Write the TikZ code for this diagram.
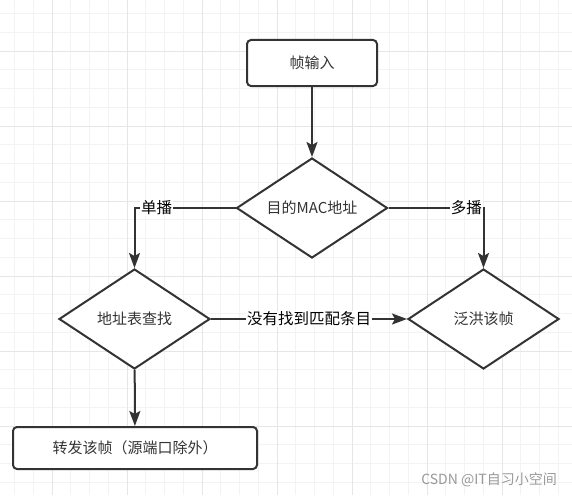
\documentclass[tikz,border=0pt]{standalone}
\usepackage{fontspec}
\setmainfont{Noto Sans CJK SC}
\usetikzlibrary{shapes.geometric,arrows.meta}
\definecolor{linegray}{HTML}{333333}
\definecolor{gridminor}{HTML}{F3F3F3}
\definecolor{gridmajor}{HTML}{E6E6E6}

\begin{document}
\begin{tikzpicture}[x=1pt, y=-1pt,
		box/.style={draw=linegray, line width=2pt, rounded corners=4pt, fill=white, minimum width=130pt, minimum height=46pt, inner sep=0pt, text=linegray, font=\fontsize{15}{17}\selectfont},
		choice/.style={diamond, aspect=1.5, draw=linegray, line width=2pt, fill=white, minimum width=151pt, minimum height=100pt, inner sep=0pt, text=linegray, font=\fontsize{15}{17}\selectfont},
		flow/.style={draw=linegray, line width=2pt, -{Stealth[length=15pt, width=11pt, inset=3pt]}},
		tag/.style={fill=white, inner sep=1pt, text=black, font=\fontsize{15.5}{17}\selectfont}]
		%%%%% START %%%%%
		
		\useasboundingbox[fill=white] (0, 0) rectangle (572, 495);
		
		\foreach \gx in {0,...,30}
			\draw[gridminor, line width=0.8pt] (14.5+18.75*\gx, 0) -- (14.5+18.75*\gx, 495);
		\foreach \gy in {0,...,26}
			\draw[gridminor, line width=0.8pt] (0, 13.5+18.75*\gy) -- (572, 13.5+18.75*\gy);
		\foreach \gx in {0,...,7}
			\draw[gridmajor, line width=0.8pt] (52+75*\gx, 0) -- (52+75*\gx, 495);
		\foreach \gy in {0,...,6}
			\draw[gridmajor, line width=0.8pt] (0, 51+75*\gy) -- (572, 51+75*\gy);
		
		\node[box] (input) at (312, 63) {帧输入};
		\node[choice] (mac) at (312, 208) {目的MAC地址};
		\node[choice] (lookup) at (134.5, 319) {地址表查找};
		\node[choice] (flood) at (483.5, 319) {泛洪该帧};
		\node[box, minimum width=244pt, minimum height=42pt] (forward) at (135, 448) {转发该帧（源端口除外）};
		
		\draw[flow] (input) -- (mac);
		\draw[flow] (mac.west) -| node[tag, pos=0.39] {单播} (lookup.north);
		\draw[flow] (mac.east) -| node[tag, pos=0.41] {多播} (flood.north);
		\draw[flow] (lookup) -- node[tag] {没有找到匹配条目} (flood);
		\draw[flow] (lookup) -- (forward);
		
		\node[anchor=east, text=black!40, inner sep=0pt, font=\fontsize{14}{16}\selectfont] (mark) at (557, 480) {CSDN @IT自习小空间};
		
		%%%%% END %%%%%
	\end{tikzpicture}
\end{document}
